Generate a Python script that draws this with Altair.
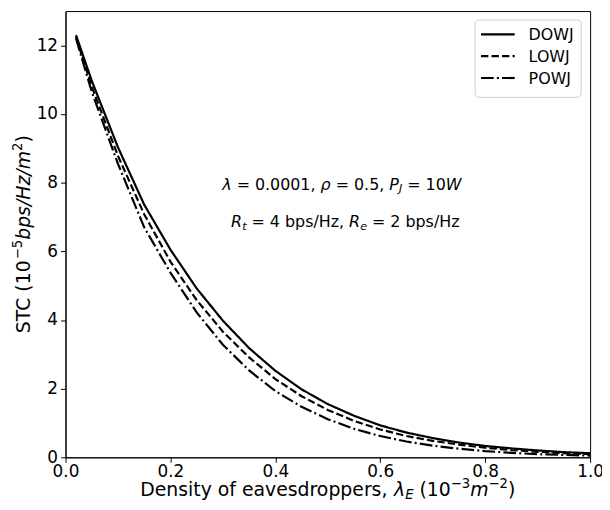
import altair as alt
import pandas as pd

# ---------------- data ----------------
x_vals = [0.02, 0.05, 0.10, 0.15, 0.20, 0.25, 0.30, 0.35, 0.40, 0.45, 0.50,
          0.55, 0.60, 0.65, 0.70, 0.75, 0.80, 0.85, 0.90, 0.95, 1.00]
dowj = [12.30, 10.97, 9.03, 7.36, 6.05, 4.92, 3.98, 3.18, 2.52, 1.98, 1.55,
        1.21, 0.93, 0.72, 0.56, 0.43, 0.33, 0.26, 0.20, 0.15, 0.12]
lowj = [12.25, 10.80, 8.78, 7.08, 5.70, 4.58, 3.66, 2.91, 2.28, 1.78, 1.38,
        1.06, 0.81, 0.62, 0.48, 0.37, 0.28, 0.21, 0.16, 0.12, 0.09]
powj = [12.20, 10.65, 8.55, 6.70, 5.38, 4.22, 3.28, 2.53, 1.93, 1.47, 1.11,
        0.83, 0.62, 0.46, 0.34, 0.25, 0.18, 0.13, 0.09, 0.07, 0.05]
series_names = ["DOWJ", "LOWJ", "POWJ"]
x_ticks = [0.0, 0.2, 0.4, 0.6, 0.8, 1.0]
y_ticks = [0, 2, 4, 6, 8, 10, 12]

rows = []
for name, vals in zip(series_names, [dowj, lowj, powj]):
    for xv, yv in zip(x_vals, vals):
        rows.append({"x": xv, "y": yv, "series": name})
df = pd.DataFrame(rows)

# ---------------- layout constants ----------------
W, H = 529, 450
FONT = "DejaVu Sans"
dashes = [[1, 0], [7.4, 3.2], [12.8, 3.2, 2, 3.2]]

# DejaVu Sans advance widths (units per 2048 em)
WID = {" ": 651, ".": 651, ",": 651, "=": 1716, "(": 799, ")": 799, "/": 690,
       "−": 1716, "-": 739, "λ": 1212, "ρ": 1300}
for d in "0123456789":
    WID[d] = 1303
WID.update(dict(zip("ABCDEFGHIJKLMNOPQRSTUVWXYZ",
                    [1401, 1405, 1430, 1577, 1294, 1178, 1587, 1540, 604, 604, 1343, 1141, 1767,
                     1532, 1612, 1235, 1612, 1423, 1300, 1251, 1499, 1401, 2025, 1403, 1251, 1405])))
WID.update(dict(zip("abcdefghijklmnopqrstuvwxyz",
                    [1255, 1300, 1126, 1300, 1260, 721, 1300, 1298, 569, 569, 1186, 569, 1995,
                     1298, 1253, 1300, 1300, 842, 1067, 803, 1298, 1212, 1675, 1212, 1212, 1075])))


def text_width(s, size):
    return sum(WID.get(c, 1250) for c in s) / 2048.0 * size


def rich(segs, size, x0, y0, vertical=False, center=False):
    """segs: list of (text, style); style in rm, it, sup, subit"""
    items = []
    off = 0.0
    for txt, st in segs:
        fs = size * 0.7 if st in ("sup", "subit") else size
        shift = 0.0
        if st == "sup":
            shift = 0.42 * size
        elif st == "subit":
            shift = -0.18 * size
        italic = st in ("it", "subit")
        lead = len(txt) - len(txt.lstrip(" "))
        core = txt.strip(" ")
        items.append([core, off + text_width(" " * lead, fs), shift, fs, italic])
        off += text_width(txt, fs)
    if center:
        for it in items:
            it[1] -= off / 2.0
    layers = []
    for txt, o, sh, fs, italic in items:
        if vertical:
            px, py, ang = x0 - sh, y0 - o, 270
        else:
            px, py, ang = x0 + o, y0 - sh, 0
        layers.append(
            alt.Chart(pd.DataFrame({"t": [txt]})).mark_text(
                align="left", baseline="alphabetic", font=FONT, fontSize=fs,
                fontStyle="italic" if italic else "normal", angle=ang, color="black"
            ).encode(x=alt.value(px), y=alt.value(py), text="t:N")
        )
    return layers


# ---------------- main lines ----------------
lines = alt.Chart(df).mark_line(color="black", strokeWidth=2.2).encode(
    x=alt.X("x:Q", scale=alt.Scale(domain=[0, 1], nice=False, padding=0),
            axis=alt.Axis(values=x_ticks, format=".1f", title=None, labelFlush=False)),
    y=alt.Y("y:Q", scale=alt.Scale(domain=[0, 13], nice=False, padding=0),
            axis=alt.Axis(values=y_ticks, format="d", title=None, labelFlush=False)),
    strokeDash=alt.StrokeDash("series:N", scale=alt.Scale(domain=series_names, range=dashes),
                              legend=None),
    detail="series:N",
)

layers = [lines]

# ---------------- annotation ----------------
line1 = [("λ", "it"), (" = 0.0001, ", "rm"), ("ρ", "it"), (" = 0.5, ", "rm"),
         ("P", "it"), ("J", "subit"), (" = 10", "rm"), ("W", "it")]
line2 = [("R", "it"), ("t", "subit"), (" = 4 bps/Hz, ", "rm"), ("R", "it"),
         ("e", "subit"), (" = 2 bps/Hz", "rm")]
layers += rich(line1, 16, 158, 180)
layers += rich(line2, 16, 167, 218)

# ---------------- axis titles ----------------
xtitle = [("Density of eavesdroppers, ", "rm"), ("λ", "it"), ("E", "subit"),
          (" (10", "rm"), ("−3", "sup"), ("m", "it"), ("−2", "sup"), (")", "rm")]
ytitle = [("STC (10", "rm"), ("−5", "sup"), ("bps/Hz/m", "it"), ("2", "sup"), (")", "rm")]
layers += rich(xtitle, 19, W / 2.0, 489, center=True)
layers += rich(ytitle, 19, -36, H / 2.0, vertical=True, center=True)

# ---------------- legend (manual) ----------------
lx, ly, lw, lh = 413, 9, 107, 78
legend_box = alt.Chart(pd.DataFrame({"a": [0]})).mark_rect(
    fill="white", stroke="#cccccc", strokeWidth=1, cornerRadius=4
).encode(x=alt.value(lx), x2=alt.value(lx + lw), y=alt.value(ly), y2=alt.value(ly + lh))
layers.append(legend_box)
for i, name in enumerate(series_names):
    yy = ly + 14.5 + 22 * i
    layers.append(
        alt.Chart(pd.DataFrame({"s": [name]})).mark_rule(
            color="black", strokeWidth=2.2, strokeDash=dashes[i]
        ).encode(x=alt.value(lx + 6), x2=alt.value(lx + 40), y=alt.value(yy))
    )
    layers.append(
        alt.Chart(pd.DataFrame({"s": [name]})).mark_text(
            align="left", baseline="middle", font=FONT, fontSize=16, color="black"
        ).encode(x=alt.value(lx + 54), y=alt.value(yy + 1), text="s:N")
    )

chart = alt.layer(*layers).properties(
    width=W, height=H,
    autosize=alt.AutoSizeParams(type="none"),
    padding={"left": 58, "top": 1, "right": 12, "bottom": 45},
).configure_view(stroke="black", strokeWidth=1).configure_axis(
    grid=False, domainColor="black", tickColor="black", labelColor="black",
    labelFont=FONT, labelFontSize=17, tickSize=5, labelPadding=1,
    domainWidth=1, tickWidth=1
).configure_axisY(labelPadding=3)

chart.save("out.html", embed_options={"renderer": "svg", "actions": False})
